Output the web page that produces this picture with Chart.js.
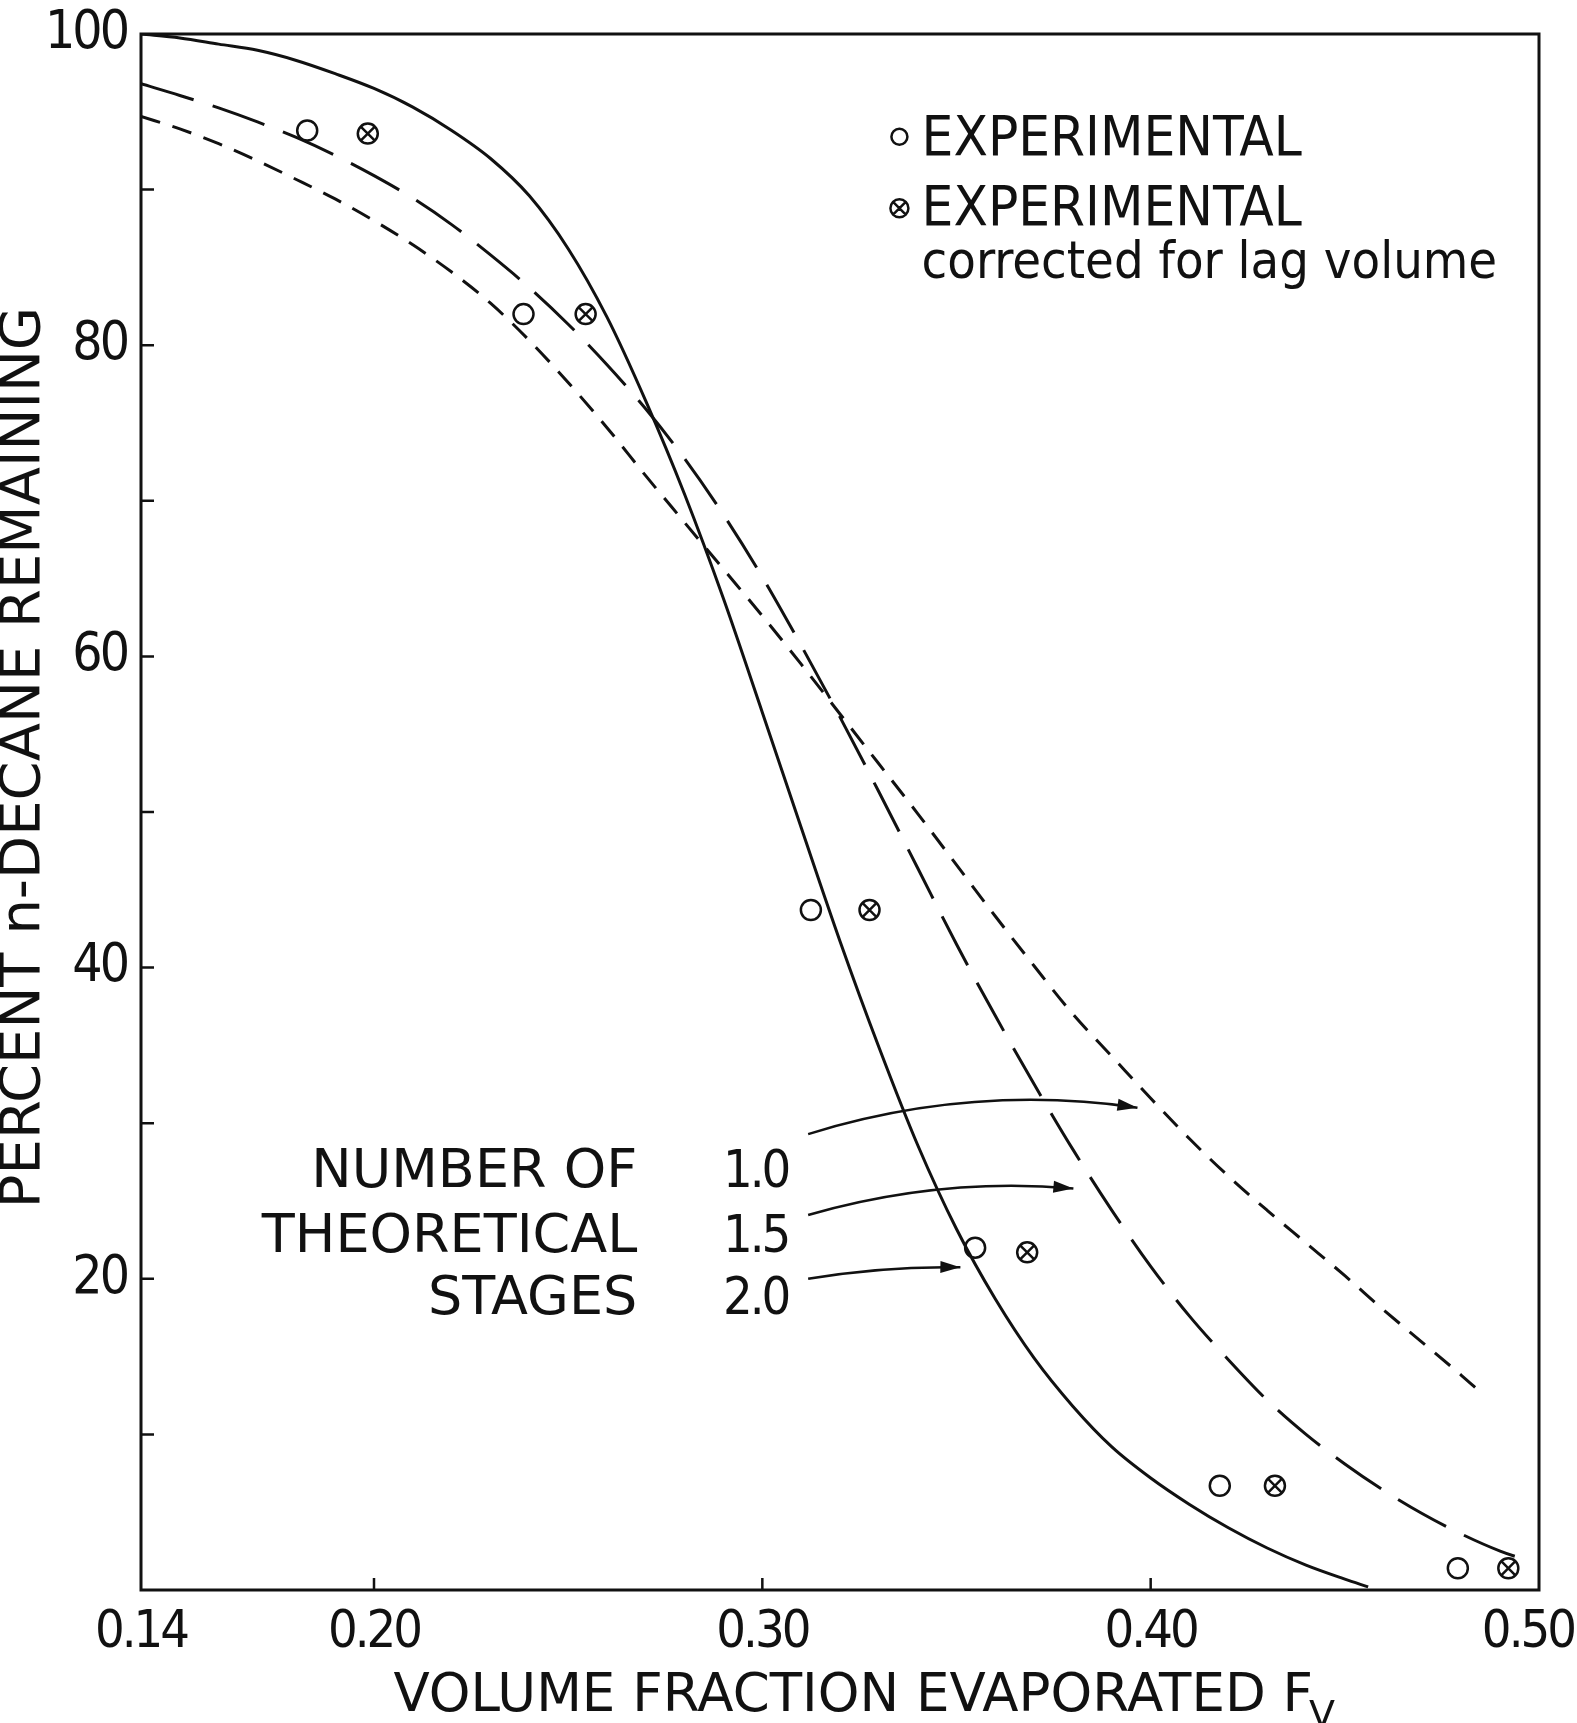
<!DOCTYPE html>
<html lang="en">
<head>
<meta charset="UTF-8">
<title>Percent n-decane remaining vs volume fraction evaporated</title>
<script src="https://cdn.jsdelivr.net/npm/chart.js"></script>
<style>
  body { margin: 0; background: #fff; }
  canvas { display: block; }
</style>
</head>
<body>
<canvas id="chart" width="1577" height="1723"></canvas>
<script>
// theoretical curves at steps of 0.01 in Fv
const fv10  = [0.14, 0.15, 0.16, 0.17, 0.18, 0.19, 0.20, 0.21, 0.22, 0.23, 0.24, 0.25, 0.26, 0.27, 0.28, 0.29, 0.30, 0.31, 0.32, 0.33, 0.34, 0.35, 0.36, 0.37, 0.38, 0.39, 0.40, 0.41, 0.42, 0.43, 0.44, 0.45, 0.46, 0.47, 0.48, 0.485];
const pct10 = [94.7, 93.9, 92.95, 91.85, 90.65, 89.4, 88.0, 86.45, 84.7, 82.7, 80.3, 77.6, 74.7, 71.6, 68.6, 65.6, 62.6, 59.5, 56.3, 53.1, 49.9, 46.6, 43.3, 40.1, 37.0, 34.3, 31.6, 29.0, 26.6, 24.4, 22.3, 20.2, 18.0, 15.9, 13.8, 12.7];

const fv15  = [0.14, 0.15, 0.16, 0.17, 0.18, 0.19, 0.20, 0.21, 0.22, 0.23, 0.24, 0.25, 0.26, 0.27, 0.28, 0.29, 0.30, 0.31, 0.32, 0.33, 0.34, 0.35, 0.36, 0.37, 0.38, 0.39, 0.40, 0.41, 0.42, 0.43, 0.44, 0.45, 0.46, 0.47, 0.48, 0.49, 0.497];
const pct15 = [96.8, 96.05, 95.25, 94.35, 93.35, 92.2, 90.9, 89.45, 87.75, 85.8, 83.7, 81.35, 78.75, 75.9, 72.7, 69.1, 65.1, 60.7, 56.1, 51.3, 46.4, 41.5, 36.9, 32.5, 28.3, 24.4, 20.8, 17.6, 14.8, 12.2, 10.0, 8.1, 6.4, 4.9, 3.6, 2.5, 1.9];

const fv20  = [0.14, 0.15, 0.16, 0.17, 0.18, 0.19, 0.20, 0.21, 0.22, 0.23, 0.24, 0.25, 0.26, 0.27, 0.28, 0.29, 0.30, 0.31, 0.32, 0.33, 0.34, 0.35, 0.36, 0.37, 0.38, 0.39, 0.40, 0.41, 0.42, 0.43, 0.44, 0.45, 0.456];
const pct20 = [100, 99.75, 99.35, 98.95, 98.3, 97.45, 96.5, 95.3, 93.8, 92.0, 89.6, 86.2, 81.8, 76.4, 70.4, 63.7, 56.4, 49.0, 41.7, 34.9, 28.6, 23.2, 18.7, 14.9, 11.8, 9.2, 7.2, 5.5, 4.0, 2.7, 1.6, 0.7, 0.2];

// experimental points
const expFv  = [0.1828, 0.2385, 0.3125, 0.3548, 0.4178, 0.4791];
const expPct = [93.8, 82.0, 43.7, 22.0, 6.7, 1.4];
const lagFv  = [0.1984, 0.2545, 0.3276, 0.3682, 0.4320, 0.4921];
const lagPct = [93.6, 82.0, 43.7, 21.7, 6.7, 1.4];

const xTicks = [0.14, 0.20, 0.30, 0.40, 0.50];
const xInner = [0.20, 0.30, 0.40];
const yInner = [10, 20, 30, 40, 50, 60, 70, 80, 90];

const stageNames = ['NUMBER OF', 'THEORETICAL', 'STAGES'];
const stageValues = ['1.0', '1.5', '2.0'];
const stageRows = [25.9, 21.7, 17.75];          // text baselines, percent units
const arrowFrom = [[0.3118, 29.3], [0.3118, 24.1], [0.3118, 20.0]];
const arrowVia  = [[0.3538, 32.55], [0.3460, 26.55], [0.3314, 20.83]];
const arrowTo   = [[0.3966, 31.0], [0.3801, 25.8], [0.3510, 20.74]];

const NUM_FONT = '"DejaVu Sans Condensed", "DejaVu Sans", sans-serif';
const TXT_FONT = '"DejaVu Sans Condensed", "DejaVu Sans", sans-serif';
const INK = '#111';

const pts = (xs, ys) => xs.map((x, i) => ({ x: x, y: ys[i] }));

function curve(data, dash) {
  return {
    data: data, showLine: true, borderColor: INK, borderWidth: 3,
    borderDash: dash, pointRadius: 0, cubicInterpolationMode: 'monotone', fill: false
  };
}
function marks(data, style) {
  return {
    data: data, showLine: false, pointStyle: style, pointRadius: 10,
    borderColor: INK, backgroundColor: 'rgba(0,0,0,0)', pointBorderWidth: 2.5
  };
}

// tighter digits for the y axis numbers, like the lettering
const narrowDigits = {
  id: 'narrowDigits',
  beforeDraw(chart) { chart.ctx.letterSpacing = '-3px'; }
};

const decor = {
  id: 'decor',
  afterDraw(chart) {
    const ctx = chart.ctx, a = chart.chartArea;
    const x = chart.scales.x, y = chart.scales.y;
    const px = v => x.getPixelForValue(v), py = v => y.getPixelForValue(v);
    ctx.save();
    ctx.strokeStyle = INK; ctx.fillStyle = INK; ctx.setLineDash([]);

    // box and inward ticks
    ctx.lineWidth = 3;
    ctx.strokeRect(a.left, a.top, a.right - a.left, a.bottom - a.top);
    ctx.lineWidth = 2.5;
    ctx.beginPath();
    yInner.forEach(v => { ctx.moveTo(a.left, py(v)); ctx.lineTo(a.left + 13, py(v)); });
    xInner.forEach(v => { ctx.moveTo(px(v), a.bottom); ctx.lineTo(px(v), a.bottom - 12); });
    ctx.stroke();

    // x tick labels, kept inside the canvas at the right end
    ctx.letterSpacing = '-3px';
    ctx.font = '52px ' + NUM_FONT;
    ctx.textAlign = 'left'; ctx.textBaseline = 'alphabetic';
    xTicks.forEach(v => {
      const s = v.toFixed(2), w = ctx.measureText(s).width;
      const cx = Math.min(px(v), chart.width - 3 - w / 2);
      ctx.fillText(s, cx - w / 2, a.bottom + 57);
    });

    // stage numbers
    ctx.textAlign = 'right';
    stageValues.forEach((s, i) => ctx.fillText(s, px(0.3067), py(stageRows[i])));
    ctx.letterSpacing = '0px';

    // axis titles
    ctx.font = '56px "DejaVu Sans", sans-serif';
    ctx.textAlign = 'center'; ctx.textBaseline = 'middle';
    ctx.save();
    ctx.translate(24, py(53.5));
    ctx.rotate(-Math.PI / 2);
    ctx.fillText('PERCENT n-DECANE REMAINING', 0, 0);
    ctx.restore();

    ctx.textAlign = 'left'; ctx.textBaseline = 'alphabetic';
    ctx.font = '53px "DejaVu Sans", sans-serif';
    const t = 'VOLUME FRACTION EVAPORATED F';
    const tx = px(0.205), ty = chart.height - 12;
    ctx.fillText(t, tx, ty);
    const tw = ctx.measureText(t).width;
    ctx.font = '38px "DejaVu Sans", sans-serif';
    ctx.fillText('V', tx + tw - 4, ty + 16);

    // legend
    ctx.lineWidth = 2.5;
    ctx.beginPath(); ctx.arc(px(0.3353), py(93.4), 8, 0, Math.PI * 2); ctx.stroke();
    const lx = px(0.3353), ly = py(88.8), r = 9;
    ctx.beginPath(); ctx.arc(lx, ly, r, 0, Math.PI * 2);
    const d = r * Math.SQRT1_2;
    ctx.moveTo(lx - d, ly - d); ctx.lineTo(lx + d, ly + d);
    ctx.moveTo(lx + d, ly - d); ctx.lineTo(lx - d, ly + d);
    ctx.stroke();
    ctx.font = '56px ' + TXT_FONT;
    ctx.fillText('EXPERIMENTAL', px(0.341), py(92.2));
    ctx.fillText('EXPERIMENTAL', px(0.341), py(87.7));
    ctx.font = '52px ' + TXT_FONT;
    ctx.fillText('corrected for lag volume', px(0.341), py(84.3));

    // stage labels
    ctx.textAlign = 'right';
    ctx.font = '54px "DejaVu Sans", sans-serif';
    stageNames.forEach((s, i) => ctx.fillText(s, px(0.2678), py(stageRows[i])));

    // arrows
    ctx.lineWidth = 2.5;
    arrowFrom.forEach((f, i) => {
      const p0 = [px(f[0]), py(f[1])];
      const p1 = [px(arrowVia[i][0]), py(arrowVia[i][1])];
      const p2 = [px(arrowTo[i][0]), py(arrowTo[i][1])];
      ctx.beginPath();
      ctx.moveTo(p0[0], p0[1]);
      ctx.quadraticCurveTo(p1[0], p1[1], p2[0], p2[1]);
      ctx.stroke();
      const ang = Math.atan2(p2[1] - p1[1], p2[0] - p1[0]);
      const L = 20, W = 6;
      const bx = p2[0] - L * Math.cos(ang), by = p2[1] - L * Math.sin(ang);
      ctx.beginPath();
      ctx.moveTo(p2[0], p2[1]);
      ctx.lineTo(bx + W * Math.sin(ang), by - W * Math.cos(ang));
      ctx.lineTo(bx - W * Math.sin(ang), by + W * Math.cos(ang));
      ctx.closePath();
      ctx.fill();
    });
    ctx.restore();
  }
};

new Chart(document.getElementById('chart'), {
  type: 'scatter',
  data: {
    datasets: [
      curve(pts(fv10, pct10), [20, 13]),
      curve(pts(fv15, pct15), [55, 20]),
      curve(pts(fv20, pct20), []),
      marks(pts(expFv, expPct), 'circle'),
      marks(pts(lagFv, lagPct), 'circle'),
      marks(pts(lagFv, lagPct), 'crossRot')
    ]
  },
  options: {
    responsive: false,
    animation: false,
    devicePixelRatio: 1,
    layout: { padding: { top: 34, right: 38, left: 0, bottom: 0 } },
    plugins: { legend: { display: false }, tooltip: { enabled: false } },
    scales: {
      x: {
        type: 'linear', min: 0.14, max: 0.50,
        grid: { display: false }, border: { display: false },
        afterBuildTicks: s => { s.ticks = xTicks.map(v => ({ value: v })); },
        afterFit: s => { s.height = 133; s.paddingLeft = 0; s.paddingRight = 0; },
        ticks: { display: false }
      },
      y: {
        min: 0, max: 100,
        grid: { display: false }, border: { display: false },
        afterFit: s => { s.width = 141; s.paddingTop = 0; s.paddingBottom = 0; },
        ticks: {
          color: INK, padding: 6, stepSize: 20,
          font: { family: NUM_FONT, size: 53 },
          callback: v => (v === 0 ? '' : String(v))
        }
      }
    }
  },
  plugins: [narrowDigits, decor]
});
</script>
</body>
</html>
